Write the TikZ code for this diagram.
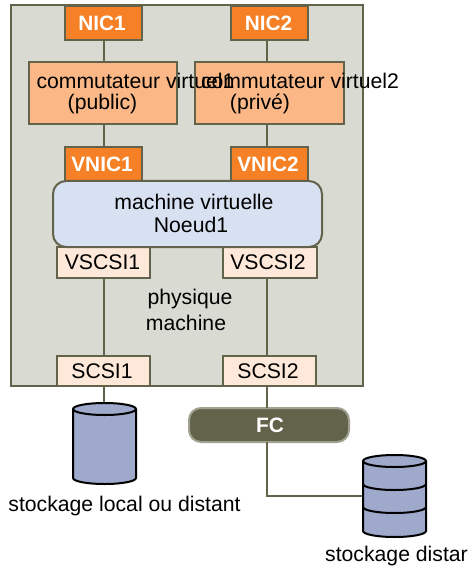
\documentclass[tikz,border=0pt]{standalone}
\usepackage{fontspec}
\setmainfont{Liberation Sans}
\usetikzlibrary{calc}
\definecolor{edgec}{HTML}{63634C}
\definecolor{hostc}{HTML}{D9DAD1}
\definecolor{orangec}{HTML}{F58025}
\definecolor{switchc}{HTML}{FBB886}
\definecolor{vmc}{HTML}{D7E1F1}
\definecolor{scsic}{HTML}{FDE8D9}
\definecolor{fcedge}{HTML}{A0A190}
\definecolor{diskc}{HTML}{9FA9CC}
\newcommand{\bx}[6]{\node[#1,minimum width=#5-#3,minimum height=#6-#4] (#2) at ({(#3+#5)/2},{(#4+#6)/2}) {};}
\tikzset{
  x=1pt,y=-1pt,
  boxbase/.style={draw=edgec,line width=2pt,inner sep=0pt,outer sep=0pt,rectangle},
  hostbox/.style={boxbase,fill=hostc},
  nicbox/.style={boxbase,fill=orangec},
  switchbox/.style={boxbase,fill=switchc},
  vmbox/.style={boxbase,fill=vmc,rounded corners=13pt},
  scsibox/.style={boxbase,fill=scsic},
  fcbox/.style={draw=fcedge,fill=edgec,line width=2pt,rectangle,rounded corners=12pt,inner sep=0pt,outer sep=0pt},
  diskarea/.style={inner sep=0pt,outer sep=0pt,rectangle},
  link/.style={draw=edgec,line width=2pt},
  disk/.style={draw=black,line width=2pt,fill=diskc},
  diskline/.style={draw=black,line width=2pt},
  txt/.style={font=\fontsize{21.2}{23}\selectfont,text=black,inner sep=0pt,align=center},
  bold/.style={font=\fontsize{20.8}{23}\selectfont\bfseries,text=white,inner sep=0pt},
}
\begin{document}
\begin{tikzpicture}
\useasboundingbox (0,0) rectangle (471,569);
\bx{hostbox}{host}{10.5}{5.5}{363}{386}
\bx{nicbox}{nic1}{65}{6}{142}{40}
\bx{nicbox}{nic2}{231}{6}{308}{40}
\bx{switchbox}{sw1}{29}{62.5}{177}{124}
\bx{switchbox}{sw2}{195}{62.5}{344}{124}
\bx{nicbox}{vnic1}{65}{147}{142}{181}
\bx{nicbox}{vnic2}{231}{147}{308}{181}
\bx{scsibox}{vscsi1}{57}{247}{150}{278}
\bx{scsibox}{vscsi2}{223}{247}{317}{278}
\bx{scsibox}{scsi1}{57}{356}{150}{386}
\bx{scsibox}{scsi2}{223}{356}{316}{386}
\bx{vmbox}{vm}{53}{181}{322}{247}
\bx{fcbox}{fc}{189}{408}{349}{442}
\bx{diskarea}{disk1}{73}{403}{136}{484}
\bx{diskarea}{disk2}{363}{455}{426}{537}
\path[link] (nic1.south) -- (nic1.south |- sw1.north);
\path[link] ($(nic2.south)+(-2.5,0)$) -- ($(nic2.south |- sw2.north)+(-2.5,0)$);
\path[link] (vnic1.north) -- (vnic1.north |- sw1.south);
\path[link] ($(vnic2.north)+(-2.5,0)$) -- ($(vnic2.north |- sw2.south)+(-2.5,0)$);
\path[link] (vscsi1.south) -- (vscsi1.south |- scsi1.north);
\path[link] ($(vscsi2.south)+(-3,0)$) -- ($(vscsi2.south |- scsi2.north)+(-3,0)$);
\path[link] (scsi1.south) -- (scsi1.south |- disk1.north);
\path[link] ($(scsi2.south)+(-2.5,0)$) -- ($(scsi2.south |- fc.north)+(-2.5,0)$);
\path[link] ($(scsi2.south |- fc.south)+(-2.5,0)$) |- (disk2.west);
% disks
\path[disk] (disk1.north west) ++(0,6) -- ++(0,69) arc[start angle=180,end angle=360,x radius=31.5,y radius=-6] -- ++(0,-69) arc[start angle=0,end angle=180,x radius=31.5,y radius=-6] -- cycle;
\path[diskline] (disk1.north west) ++(0,6) arc[start angle=180,end angle=360,x radius=31.5,y radius=-6];
\path[disk] (disk2.north west) ++(0,6) -- ++(0,70) arc[start angle=180,end angle=360,x radius=31.5,y radius=-6] -- ++(0,-70) arc[start angle=0,end angle=180,x radius=31.5,y radius=-6] -- cycle;
\path[diskline] (disk2.north west) ++(0,6) arc[start angle=180,end angle=360,x radius=31.5,y radius=-6];
\path[diskline] (disk2.north west) ++(0,29) arc[start angle=180,end angle=360,x radius=31.5,y radius=-6];
\path[diskline] (disk2.north west) ++(0,52) arc[start angle=180,end angle=360,x radius=31.5,y radius=-6];
% labels
\node[bold] (tnic1) at (102,23) {NIC1};
\node[bold] (tnic2) at (268.5,23) {NIC2};
\node[bold] (tvnic1) at (102,164) {VNIC1};
\node[bold] (tvnic2) at (268,164) {VNIC2};
\node[bold] (tfc) at (270,425) {FC};
\node[txt] (tsw1a) at (135.5,81) {commutateur virtuel1};
\node[txt] (tsw1b) at (102.5,104) {(public)};
\node[txt] (tsw2a) at (300,81) {commutateur virtuel2};
\node[txt] (tsw2b) at (260,104) {(privé)};
\node[txt] (tvm1) at (194,202) {machine virtuelle};
\node[txt] (tvm2) at (191,225) {Noeud1};
\node[txt] (tv1) at (102.5,262) {VSCSI1};
\node[txt] (tv2) at (268,262) {VSCSI2};
\node[txt] (ts1) at (102,371) {SCSI1};
\node[txt] (ts2) at (268,371) {SCSI2};
\node[txt] (tphys1) at (190,299.5) {physique};
\node[txt] (tphys2) at (186,323) {machine};
\node[txt] (tl1) at (124.5,506) {stockage local ou distant};
\node[txt] (tl2) at (396.5,556) {stockage distar};
\end{tikzpicture}
\end{document}
